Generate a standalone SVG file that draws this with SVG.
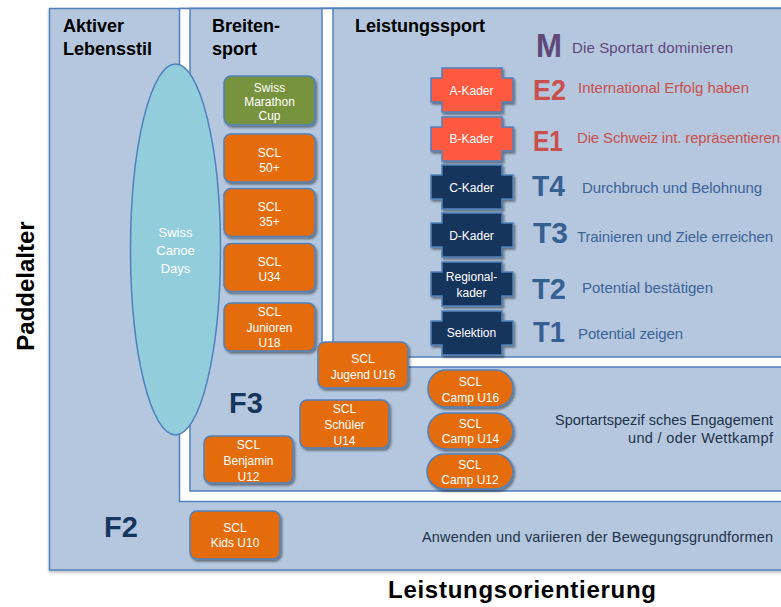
<svg xmlns="http://www.w3.org/2000/svg" xmlns:xlink="http://www.w3.org/1999/xlink" width="781" height="607" viewBox="0 0 781 607">
<style>
text{font-family:"Liberation Sans",Arial,sans-serif}
.panel{fill:#b4c7de;stroke:#4f81bd;stroke-width:1.5}
.frame{fill:#ffffff;stroke:#4f81bd;stroke-width:1.5}
.hdr{font-size:18px;font-weight:bold;fill:#000}
.box{stroke:#4f81bd;stroke-width:1.5;filter:url(#sh)}
.org{fill:#e46c0a}
.grn{fill:#77933c}
.bt{font-size:12px;fill:#fff;text-anchor:middle}
.kr{fill:#ff5a40}
.kn{fill:#17365d}
.code{font-weight:bold;font-size:30px}
.desc{font-size:15px}
.cm{fill:#60497a}
.ce{fill:#c9504d}
.ct{fill:#376092}
.dt{fill:#3d6496}
.note{font-size:14.5px;fill:#22324a;text-anchor:end}
.big{font-weight:bold;fill:#17365d;font-size:29px}
.axis{font-weight:bold;font-size:24px;fill:#000}
</style>
<defs>
<filter id="sh" x="-10%" y="-10%" width="130%" height="130%">
<feDropShadow dx="1.5" dy="2" stdDeviation="1.2" flood-color="#000" flood-opacity="0.45"/>
</filter>
<filter id="ps" x="-5%" y="-5%" width="110%" height="110%">
<feDropShadow dx="0" dy="2" stdDeviation="1.5" flood-color="#000" flood-opacity="0.25"/>
</filter>
<path id="kad" d="M442,0 H502 V10 H513 V34 H502 V44 H442 V34 H431 V10 H442 Z"/>
</defs>

<g id="panels">
<rect id="f2-panel" class="panel" x="49.5" y="8.5" width="750" height="561.5" filter="url(#ps)"/>
<rect id="f3-frame" class="frame" x="179.5" y="8.5" width="620" height="493"/>
<rect id="f3-panel" class="panel" x="190" y="8.5" width="610" height="482.5"/>
<rect id="ls-frame" class="frame" x="322" y="8.5" width="480" height="358.5"/>
<rect id="ls-panel" class="panel" x="333" y="8.5" width="470" height="348.5"/>
</g>

<g id="headers">
<text class="hdr" x="63" y="32">Aktiver</text>
<text class="hdr" x="63" y="55">Lebensstil</text>
<text class="hdr" x="212" y="32">Breiten-</text>
<text class="hdr" x="212" y="55">sport</text>
<text class="hdr" x="355" y="32">Leistungssport</text>
</g>

<g id="swiss-canoe-days">
<ellipse cx="175.5" cy="249.5" rx="45" ry="185.5" fill="#92cddc" stroke="#4f81bd" stroke-width="1.5"/>
<text class="bt" x="175.5" y="237" style="font-size:13px">Swiss</text>
<text class="bt" x="175.5" y="255" style="font-size:13px">Canoe</text>
<text class="bt" x="175.5" y="273" style="font-size:13px">Days</text>
</g>

<g id="swiss-marathon-cup">
<rect class="box grn" x="224" y="76" width="91" height="49" rx="7"/>
<text class="bt" x="269.5" y="92">Swiss</text>
<text class="bt" x="269.5" y="106">Marathon</text>
<text class="bt" x="269.5" y="120">Cup</text>
</g>
<g id="scl-50">
<rect class="box org" x="224" y="134" width="91" height="48" rx="7"/>
<text class="bt" x="269.5" y="157">SCL</text>
<text class="bt" x="269.5" y="172">50+</text>
</g>
<g id="scl-35">
<rect class="box org" x="224" y="188.5" width="91" height="48" rx="7"/>
<text class="bt" x="269.5" y="211">SCL</text>
<text class="bt" x="269.5" y="226">35+</text>
</g>
<g id="scl-u34">
<rect class="box org" x="224" y="243.5" width="91" height="48" rx="7"/>
<text class="bt" x="269.5" y="266">SCL</text>
<text class="bt" x="269.5" y="281">U34</text>
</g>
<g id="scl-junioren">
<rect class="box org" x="224" y="303" width="91" height="48" rx="7"/>
<text class="bt" x="269.5" y="316">SCL</text>
<text class="bt" x="269.5" y="332">Junioren</text>
<text class="bt" x="269.5" y="347">U18</text>
</g>
<g id="scl-jugend">
<rect class="box org" x="318" y="342" width="90" height="46" rx="7"/>
<text class="bt" x="363" y="363">SCL</text>
<text class="bt" x="363" y="379">Jugend U16</text>
</g>
<g id="scl-schueler">
<rect class="box org" x="300" y="400" width="89" height="48" rx="7"/>
<text class="bt" x="344.5" y="413">SCL</text>
<text class="bt" x="344.5" y="429">Schüler</text>
<text class="bt" x="344.5" y="445">U14</text>
</g>
<g id="scl-benjamin">
<rect class="box org" x="204" y="436" width="89" height="47" rx="7"/>
<text class="bt" x="248.5" y="449">SCL</text>
<text class="bt" x="248.5" y="465">Benjamin</text>
<text class="bt" x="248.5" y="481">U12</text>
</g>
<g id="scl-kids">
<rect class="box org" x="190" y="511" width="90" height="48" rx="7"/>
<text class="bt" x="235" y="532">SCL</text>
<text class="bt" x="235" y="547">Kids U10</text>
</g>
<g id="scl-camp-u16">
<rect class="box org" x="428" y="370" width="85" height="37" rx="18"/>
<text class="bt" x="470.5" y="386">SCL</text>
<text class="bt" x="470.5" y="402">Camp U16</text>
</g>
<g id="scl-camp-u14">
<rect class="box org" x="428" y="413" width="85" height="36" rx="18"/>
<text class="bt" x="470.5" y="428">SCL</text>
<text class="bt" x="470.5" y="443">Camp U14</text>
</g>
<g id="scl-camp-u12">
<rect class="box org" x="427" y="454" width="86" height="35" rx="17.5"/>
<text class="bt" x="470" y="469">SCL</text>
<text class="bt" x="470" y="484">Camp U12</text>
</g>

<g id="a-kader">
<use xlink:href="#kad" href="#kad" class="box kr" transform="translate(0,68)"/>
<text class="bt" x="471.5" y="95">A-Kader</text>
</g>
<g id="b-kader">
<use xlink:href="#kad" href="#kad" class="box kr" transform="translate(0,117)"/>
<text class="bt" x="471.5" y="143">B-Kader</text>
</g>
<g id="c-kader">
<use xlink:href="#kad" href="#kad" class="box kn" transform="translate(0,165)"/>
<text class="bt" x="471.5" y="192">C-Kader</text>
</g>
<g id="d-kader">
<use xlink:href="#kad" href="#kad" class="box kn" transform="translate(0,213)"/>
<text class="bt" x="471.5" y="240">D-Kader</text>
</g>
<g id="regionalkader">
<use xlink:href="#kad" href="#kad" class="box kn" transform="translate(0,262)"/>
<text class="bt" x="471.5" y="281">Regional-</text>
<text class="bt" x="471.5" y="297">kader</text>
</g>
<g id="selektion">
<use xlink:href="#kad" href="#kad" class="box kn" transform="translate(0,311)"/>
<text class="bt" x="471.5" y="337">Selektion</text>
</g>

<g id="levels">
<text class="code cm" x="536" y="57" style="font-size:33px" textLength="26" lengthAdjust="spacingAndGlyphs">M</text>
<text class="desc cm" x="572" y="53" textLength="161">Die Sportart dominieren</text>
<text class="code ce" x="533" y="100" textLength="33" lengthAdjust="spacingAndGlyphs">E2</text>
<text class="desc ce" x="578" y="93" textLength="171">International Erfolg haben</text>
<text class="code ce" x="533" y="151" textLength="30" lengthAdjust="spacingAndGlyphs">E1</text>
<text class="desc ce" x="577" y="143" textLength="203">Die Schweiz int. repräsentieren</text>
<text class="code ct" x="532" y="196" textLength="33" lengthAdjust="spacingAndGlyphs">T4</text>
<text class="desc dt" x="582" y="193" textLength="180">Durchbruch und Belohnung</text>
<text class="code ct" x="533" y="243" textLength="35" lengthAdjust="spacingAndGlyphs">T3</text>
<text class="desc dt" x="577" y="242" textLength="196">Trainieren und Ziele erreichen</text>
<text class="code ct" x="532" y="299" textLength="34" lengthAdjust="spacingAndGlyphs">T2</text>
<text class="desc dt" x="582" y="293" textLength="131">Potential bestätigen</text>
<text class="code ct" x="533" y="342" textLength="32" lengthAdjust="spacingAndGlyphs">T1</text>
<text class="desc dt" x="578" y="339" textLength="105">Potential zeigen</text>
</g>

<g id="labels">
<text class="big" x="229" y="413">F3</text>
<text class="big" x="104" y="537">F2</text>
<text class="note" x="773" y="425" textLength="218">Sportartspezif sches Engagement</text>
<text class="note" x="773" y="443" textLength="145">und / oder Wettkampf</text>
<text class="note" x="773" y="542" textLength="351">Anwenden und variieren der Bewegungsgrundformen</text>
<text class="axis" x="522" y="598" text-anchor="middle" textLength="268">Leistungsorientierung</text>
<text class="axis" transform="translate(34,286) rotate(-90)" text-anchor="middle">Paddelalter</text>
</g>

<g id="connectors"></g>
</svg>
